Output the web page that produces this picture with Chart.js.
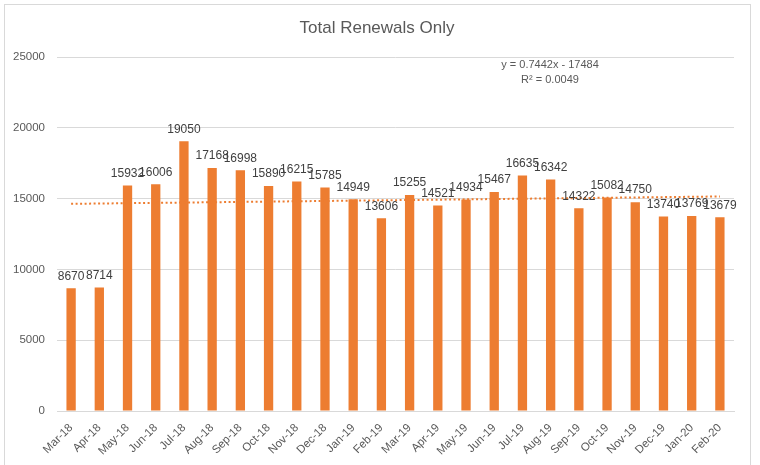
<!DOCTYPE html>
<html>
<head>
<meta charset="utf-8">
<script src="https://cdn.jsdelivr.net/npm/chart.js@4"></script>
<style>
    html, body { margin: 0; padding: 0; background: #fff; }
    #wrap { width: 760px; height: 465px; }
</style>
</head>
<body>
<div id="wrap"><canvas id="myChart" width="760" height="465"></canvas></div>
<script>
// months on the x axis
let months = ["Mar-18", "Apr-18", "May-18", "Jun-18", "Jul-18", "Aug-18", "Sep-18", "Oct-18",
    "Nov-18", "Dec-18", "Jan-19", "Feb-19", "Mar-19", "Apr-19", "May-19", "Jun-19", "Jul-19",
    "Aug-19", "Sep-19", "Oct-19", "Nov-19", "Dec-19", "Jan-20", "Feb-20"];

// renewals per month
let renewals = [8670, 8714, 15932, 16006, 19050, 17168, 16998, 15890, 16215, 15785, 14949, 13606,
    15255, 14521, 14934, 15467, 16635, 16342, 14322, 15082, 14750, 13740, 13769, 13679];

// linear trendline, read at first and last month
let trendStart = 14630;
let trendEnd = 15150;
let trendText = ["y = 0.7442x - 17484", "R\u00b2 = 0.0049"];

let yTicks = [0, 5000, 10000, 15000, 20000, 25000];

let trendData = months.map((m, i) => i === 0 ? trendStart : (i === months.length - 1 ? trendEnd : null));

const FONT = "'Liberation Sans', Arial, sans-serif";

// frame, title, value labels and equation
let extras = {
    id: 'extras',
    beforeDraw(chart) {
        let ctx = chart.ctx;
        ctx.save();
        ctx.fillStyle = '#fff';
        ctx.fillRect(0, 0, chart.width, chart.height);
        ctx.strokeStyle = '#d9d9d9';
        ctx.lineWidth = 1;
        ctx.strokeRect(4.5, 4.5, 746, 480);
        ctx.restore();
    },
    afterDraw(chart) {
        let ctx = chart.ctx;
        ctx.save();
        ctx.fillStyle = '#595959';
        ctx.textAlign = 'center';
        ctx.textBaseline = 'middle';
        ctx.font = "17px " + FONT;
        ctx.fillText("Total Renewals Only", 377, 28);

        ctx.font = "11px " + FONT;
        ctx.fillText(trendText[0], 550, 65);
        ctx.fillText(trendText[1], 550, 80);

        // value labels above bars
        let meta = chart.getDatasetMeta(0);
        ctx.fillStyle = '#404040';
        ctx.font = "12px " + FONT;
        ctx.textBaseline = 'bottom';
        meta.data.forEach((bar, i) => {
            ctx.fillText(String(renewals[i]), bar.x, bar.y - 6);
        });
        ctx.restore();
    }
};

let chart = new Chart("myChart", {
    type: 'bar',
    data: {
        labels: months,
        datasets: [{
            type: 'bar',
            data: renewals,
            backgroundColor: '#ED7D31',
            borderWidth: 0,
            barPercentage: 0.33,
            categoryPercentage: 1,
            order: 2
        }, {
            type: 'line',
            data: trendData,
            spanGaps: true,
            borderColor: '#ED7D31',
            borderWidth: 2,
            borderDash: [2, 2.5],
            pointRadius: 0,
            fill: false,
            order: 1
        }]
    },
    options: {
        responsive: false,
        animation: false,
        layout: { padding: { left: 0, right: 26, top: 57, bottom: 0 } },
        plugins: {
            legend: { display: false },
            title: { display: false },
            tooltip: { enabled: false }
        },
        scales: {
            x: {
                grid: { display: false },
                border: { color: '#d9d9d9' },
                ticks: {
                    color: '#595959',
                    font: { family: FONT, size: 11.5 },
                    maxRotation: 45,
                    minRotation: 45,
                    autoSkip: false,
                    padding: 2
                },
                afterFit(s) { s.height = 54; }
            },
            y: {
                min: 0,
                max: 25000,
                afterBuildTicks(s) { s.ticks = yTicks.map(v => ({ value: v })); },
                grid: { color: '#d9d9d9', drawTicks: false },
                border: { display: false },
                ticks: {
                    color: '#595959',
                    font: { family: FONT, size: 11.5 },
                    padding: 12,
                    callback: v => String(v)
                },
                afterFit(s) { s.width = 57; }
            }
        }
    },
    plugins: [extras]
});
</script>
</body>
</html>
